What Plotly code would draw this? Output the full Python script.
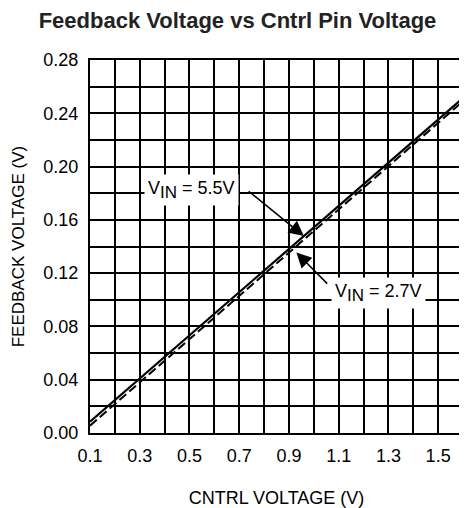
import plotly.graph_objects as go

# Data
cntrl_v = [0.1, 1.6]
fb_55 = [0.0085, 0.2515]
fb_27 = [0.0055, 0.2490]
x_ticks = [0.1, 0.3, 0.5, 0.7, 0.9, 1.1, 1.3, 1.5]
y_ticks = [0.00, 0.04, 0.08, 0.12, 0.16, 0.20, 0.24, 0.28]

FONT = "Liberation Sans, Arial, sans-serif"

fig = go.Figure()
fig.add_trace(go.Scatter(x=cntrl_v, y=fb_55, mode="lines",
                         line=dict(color="black", width=2.2), showlegend=False))
fig.add_trace(go.Scatter(x=cntrl_v, y=fb_27, mode="lines",
                         line=dict(color="black", width=2, dash="9px,4px"), showlegend=False))

# annotations
fig.add_annotation(x=0.96, y=0.1478, ax=0.732, ay=0.1824, xref="x", yref="y",
                   axref="x", ayref="y", text="", showarrow=True,
                   arrowhead=2, arrowsize=2, arrowwidth=1.5, arrowcolor="black")
fig.add_annotation(x=0.93, y=0.1355, ax=1.06, ay=0.111, xref="x", yref="y",
                   axref="x", ayref="y", text="", showarrow=True,
                   arrowhead=2, arrowsize=2, arrowwidth=1.5, arrowcolor="black")
fig.add_annotation(x=0.508, y=0.1824,
                   text="V<sub><span style='font-size:17px'>IN</span></sub> = 5.5V",
                   showarrow=False,
                   bgcolor="white", font=dict(family=FONT, size=18, color="black"),
                   borderpad=3)
fig.add_annotation(x=1.26, y=0.105,
                   text="V<sub><span style='font-size:17px'>IN</span></sub> = 2.7V",
                   showarrow=False,
                   bgcolor="white", font=dict(family=FONT, size=18, color="black"),
                   borderpad=3)

fig.update_layout(
    width=459, height=500,
    margin=dict(l=82, r=2, t=52, b=75),
    paper_bgcolor="white", plot_bgcolor="white",
    font=dict(family=FONT, size=18, color="black"),
    title=dict(text="<b>Feedback Voltage vs Cntrl Pin Voltage</b>", x=0.5, xanchor="center",
               y=0.976, yanchor="middle", font=dict(family=FONT, size=22, color="#222222")),
)
fig.update_xaxes(range=[0.1, 1.6], tickvals=x_ticks, ticktext=[f"{v:.1f}" for v in x_ticks],
                 showgrid=True, gridcolor="black", gridwidth=1.8,
                 minor=dict(dtick=0.1, tick0=0.1, showgrid=True, gridcolor="black", gridwidth=1.8),
                 showline=True, linecolor="black", linewidth=2, mirror=True,
                 ticks="", zeroline=False, ticklabelstandoff=5,
                 tickfont=dict(size=18),
                 title=dict(text="CNTRL VOLTAGE (V)", standoff=28, font=dict(size=18)))
fig.update_yaxes(range=[0, 0.28], tickvals=y_ticks, ticktext=[f"{v:.2f}" for v in y_ticks],
                 showgrid=True, gridcolor="black", gridwidth=1.8,
                 minor=dict(dtick=0.02, tick0=0, showgrid=True, gridcolor="black", gridwidth=1.8),
                 showline=True, linecolor="black", linewidth=2, mirror=True,
                 ticks="", zeroline=False, ticklabelstandoff=6,
                 tickfont=dict(size=18),
                 title=dict(text="FEEDBACK VOLTAGE (V)", standoff=14, font=dict(size=17)))

fig.write_html("out.html")
